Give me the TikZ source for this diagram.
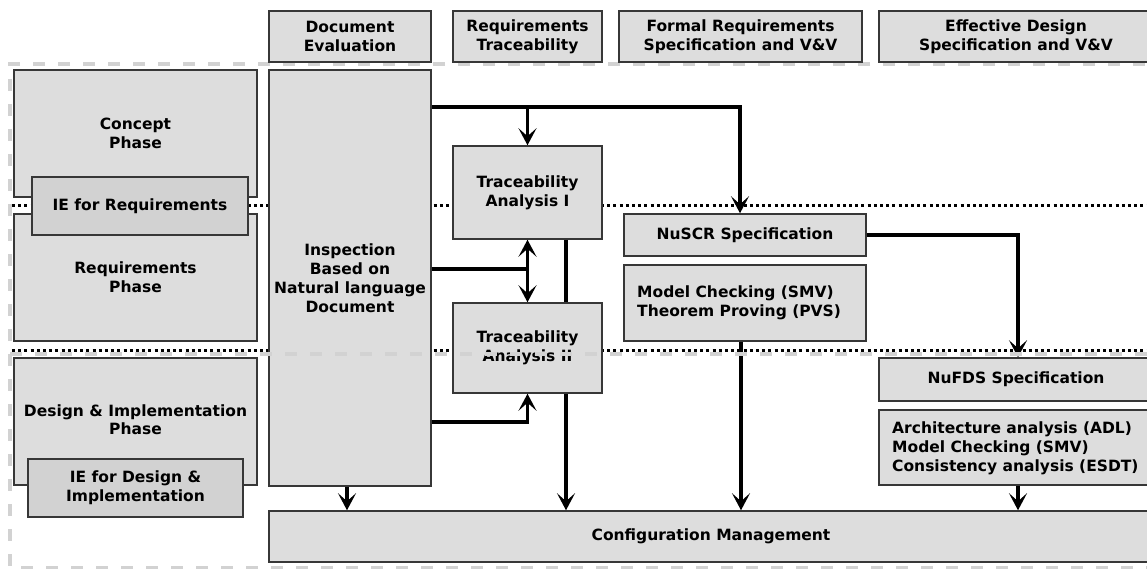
\documentclass[tikz,border=0pt]{standalone}
\usepackage{fontspec}
\setmainfont{DejaVu Sans}
\usetikzlibrary{arrows.meta,calc}
\definecolor{boxfill}{RGB}{221,221,221}
\definecolor{iefill}{RGB}{210,210,210}
\definecolor{boxline}{RGB}{55,55,55}
\definecolor{framegray}{RGB}{210,210,210}
\begin{document}
\begin{tikzpicture}[x=1pt,y=-1pt,
  txt/.style={font=\fontsize{15.5}{19}\selectfont\bfseries, align=center},
  box/.style={txt, draw=boxline, line width=1.5pt, fill=boxfill, inner sep=0pt},
  iebox/.style={box, fill=iefill},
  lbl/.style={txt, align=left, inner sep=0pt},
  link/.style={line width=3.5pt},
  tip/.tip={Stealth[length=17pt,width=18pt,inset=8pt]},
  arr/.style={link, -tip},
  arrboth/.style={link, tip-tip},
  dotline/.style={line width=3pt, dash pattern=on 3pt off 3.2pt},
  frame/.style={draw=framegray, line width=3.5pt, dash pattern=on 12pt off 13pt}]
\useasboundingbox (0,0) rectangle (1147,569);
\clip (0,0) rectangle (1147,569);

% outer dashed frame
\draw[frame] (1170,64) -- (10,64) -- (10,568) -- (1170,568);

% phase separators
\draw[dotline] (12,206) -- (1170,206);
\draw[dotline] (12,350) -- (1170,350);

% column headers
\node[box, minimum width=162pt, minimum height=51pt] (doc) at (350,36.5) {Document\\Evaluation};
\node[box, minimum width=149pt, minimum height=51pt] (req) at (527.5,36.5) {Requirements\\Traceability};
\node[box, minimum width=243pt, minimum height=51pt] (formal) at (740.5,36.5) {Formal Requirements\\Specification and V\&V};
\node[box, minimum width=274pt, minimum height=51pt] (eff) at (1016,36.5) {Effective Design\\Specification and V\&V};

% phases
\node[box, minimum width=243pt, minimum height=127pt] (concept) at (135.5,133.5) {Concept\\Phase};
\node[box, minimum width=243pt, minimum height=127pt] (reqph) at (135.5,277.5) {Requirements\\Phase};
\node[iebox, minimum width=216pt, minimum height=58pt] (iereq) at (140,206) {IE for Requirements};
\node[box, minimum width=243pt, minimum height=127pt] (design) at (135.5,421.5) {\raisebox{3pt}{\shortstack{Design \& Implementation\\Phase}}};
\node[iebox, minimum width=215pt, minimum height=58pt] (iedes) at (135.5,488) {IE for Design \&\\Implementation};

% activities
\node[box, minimum width=162pt, minimum height=416pt] (insp) at (350,278) {Inspection\\Based on\\Natural language\\Document};
\node[box, minimum width=149pt, minimum height=93pt] (ta1) at (527.5,192.5) {Traceability\\Analysis I};
\node[box, minimum width=242pt, minimum height=42pt] (nuscr) at (745,235) {NuSCR Specification};
\node[box, minimum width=242pt, minimum height=76pt] (mc) at (745,303) {};
\node[lbl, anchor=west] (mctext) at (637,303) {Model Checking (SMV)\\Theorem Proving (PVS)};
\node[box, minimum width=274pt, minimum height=43pt] (nufds) at (1016,379.5) {NuFDS Specification};
\node[box, minimum width=274pt, minimum height=75pt] (arch) at (1016,447.5) {};
\node[lbl, anchor=west] (archtext) at (892,448) {Architecture analysis (ADL)\\Model Checking (SMV)\\Consistency analysis (ESDT)};
\node[box, minimum width=884pt, minimum height=51pt] (cm) at (711,536.5) {Configuration Management};

% trace results pass behind the second traceability analysis
\draw[arr] (ta1.south -| 566,0) -- (cm.north -| 566,0);
\node[box, minimum width=149pt, minimum height=90pt] (ta2) at (527.5,348) {Traceability\\Analysis II};

% connectors
\coordinate (j1) at (740,107);
\coordinate (j2) at (431,269);
\coordinate (j3) at (431,422);
\draw[arr] (insp.east |- j1) -| (nuscr.north -| j1);
\draw[arr] (ta1.north |- j1) -- (ta1.north);
\draw[link] (insp.east |- j2) -- (ta1.south |- j2);
\draw[arrboth] (ta1.south) -- (ta2.north);
\draw[arr] (insp.east |- j3) -| (ta2.south);
\draw[arr] (insp.south -| 347,0) -- (cm.north -| 347,0);
\draw[arr] (mc.south -| 741,0) -- (cm.north -| 741,0);
\draw[arr] (nuscr.east) -| (nufds.north -| 1018,0);
\draw[arr] (arch.south -| 1018,0) -- (cm.north -| 1018,0);

% dashed boundary between the upper and lower phases
\draw[frame] (10,354) -- (1170,354);
\end{tikzpicture}
\end{document}
